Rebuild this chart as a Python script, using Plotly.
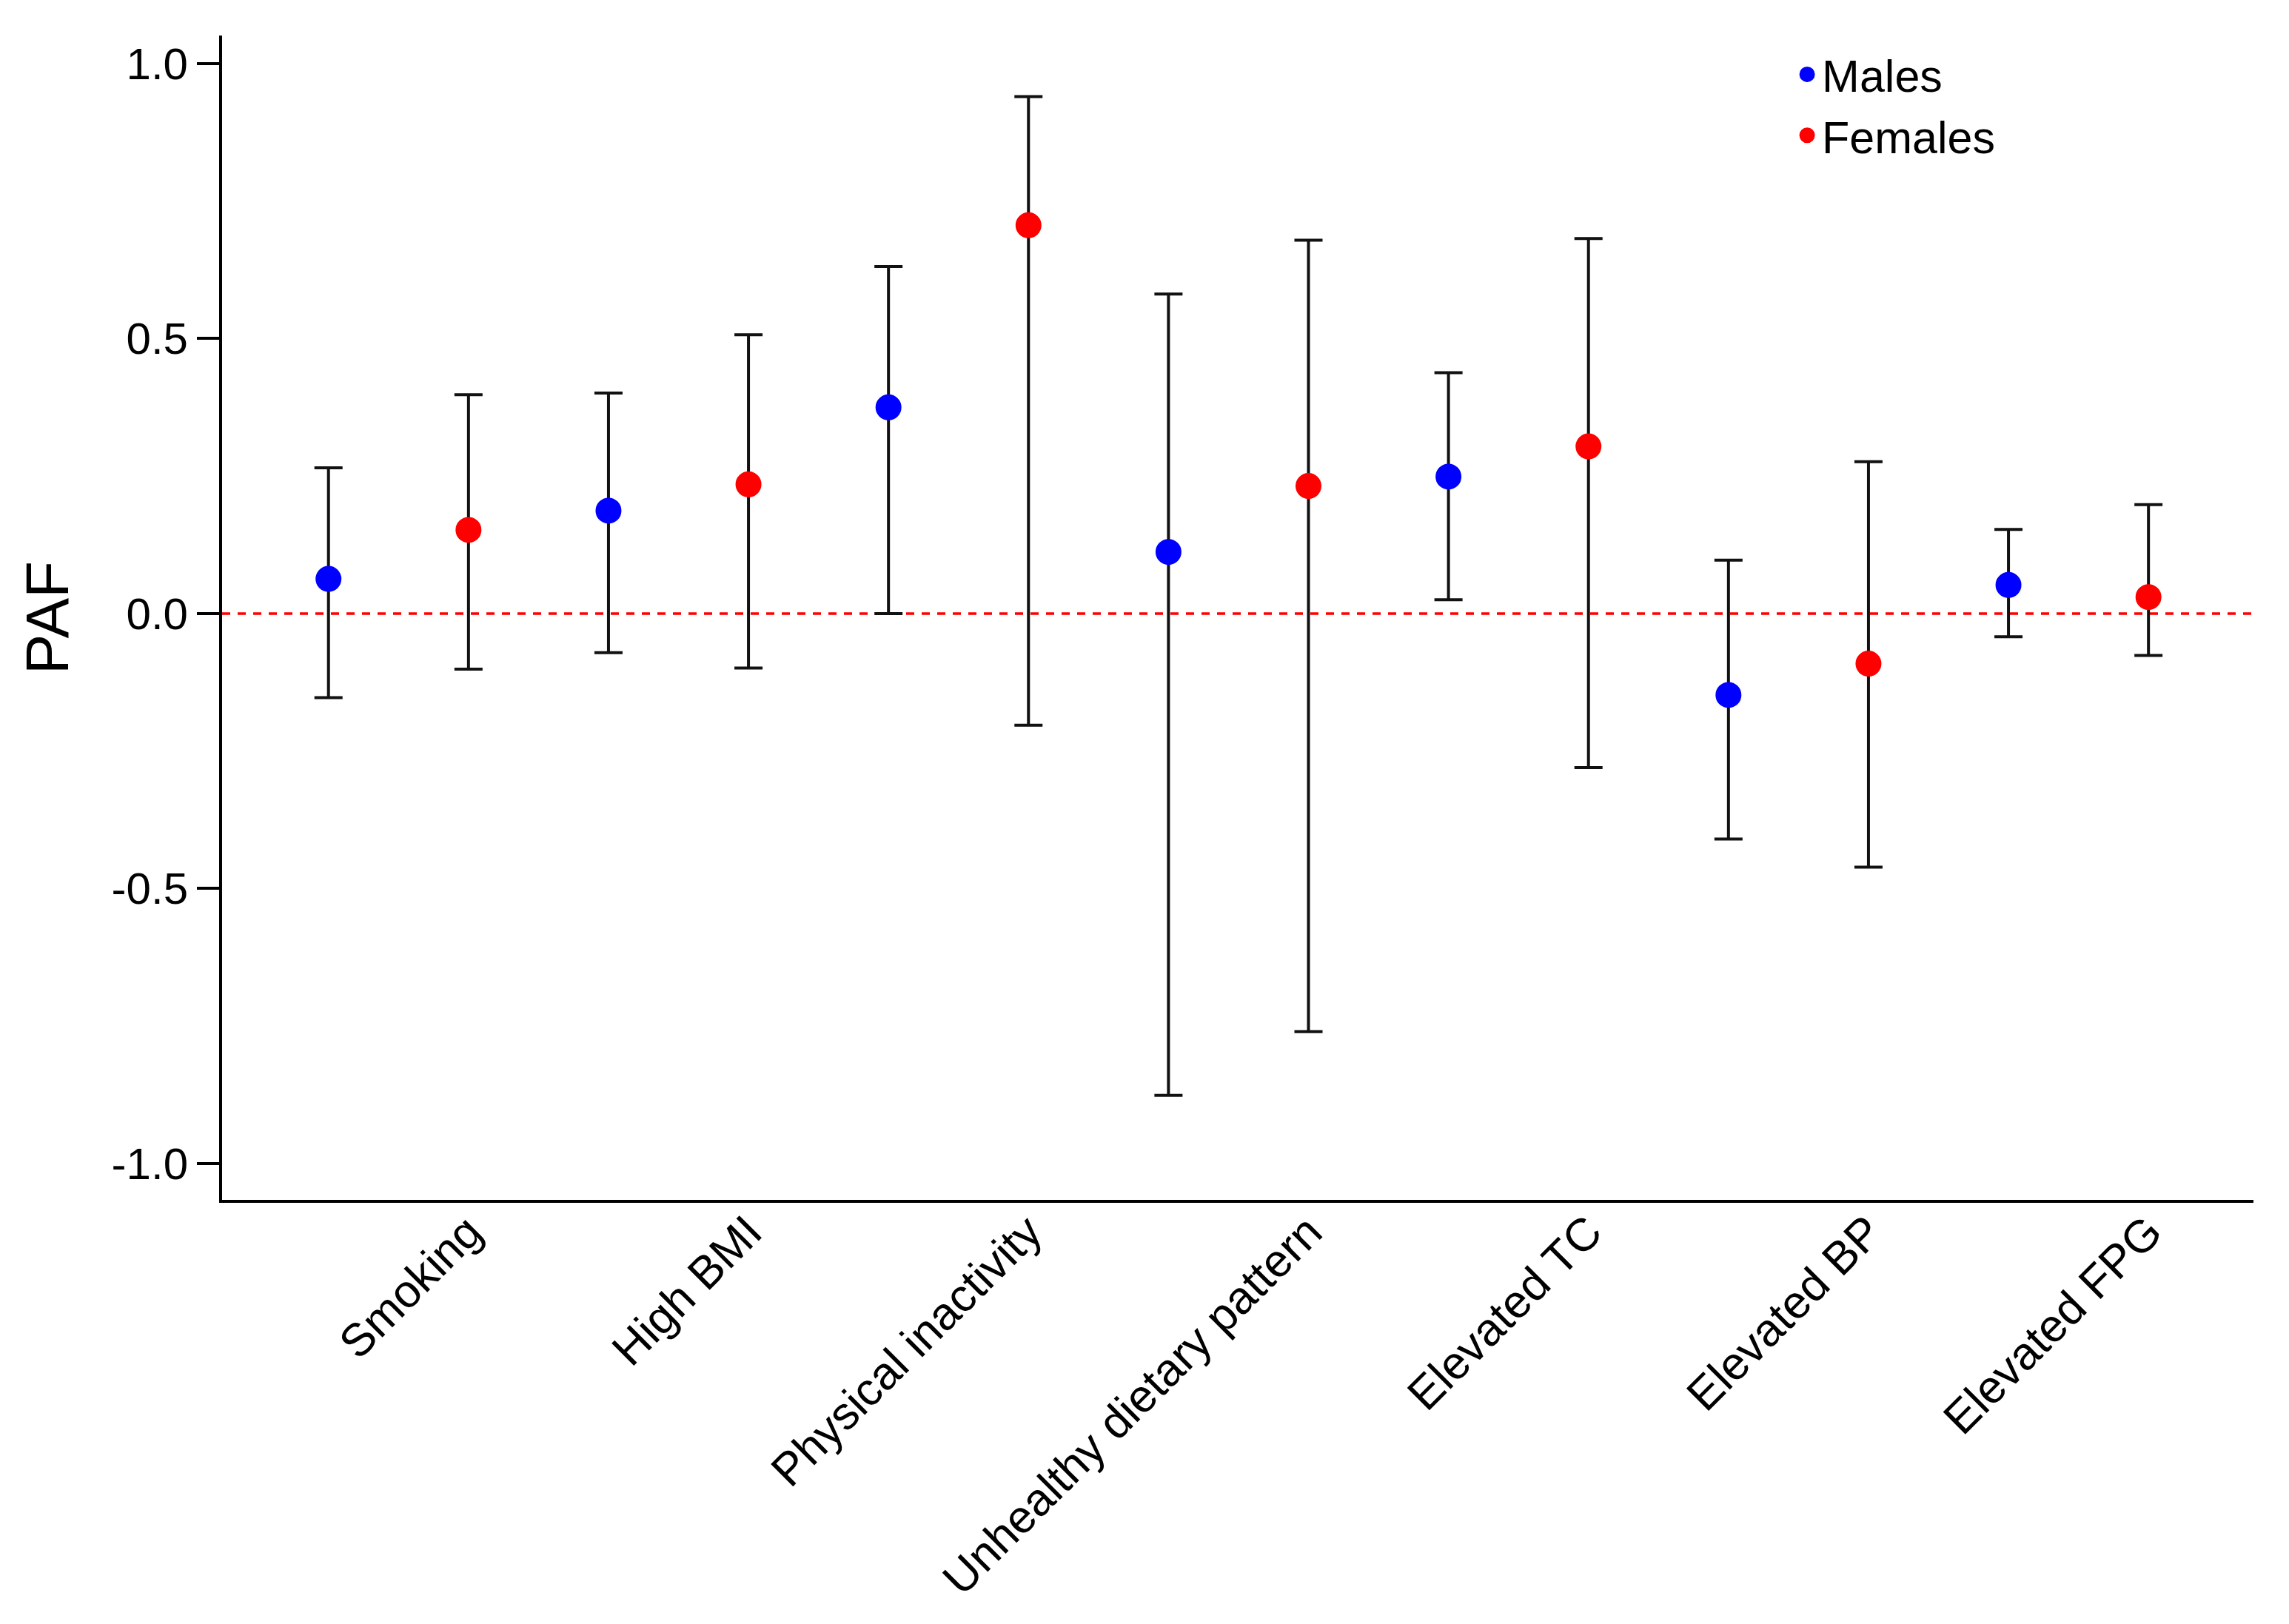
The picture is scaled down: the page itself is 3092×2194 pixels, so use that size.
import plotly.graph_objects as go

categories = ["Smoking", "High BMI", "Physical inactivity", "Unhealthy dietary pattern",
              "Elevated TC", "Elevated BP", "Elevated FPG"]

males_paf = [0.063, 0.187, 0.375, 0.112, 0.249, -0.148, 0.052]
males_lo = [-0.153, -0.071, 0.000, -0.876, 0.025, -0.410, -0.042]
males_hi = [0.265, 0.401, 0.631, 0.581, 0.438, 0.097, 0.153]

females_paf = [0.152, 0.235, 0.706, 0.232, 0.304, -0.091, 0.030]
females_lo = [-0.101, -0.099, -0.203, -0.760, -0.280, -0.461, -0.076]
females_hi = [0.398, 0.507, 0.940, 0.679, 0.682, 0.276, 0.198]

y_ticks = [-1.0, -0.5, 0.0, 0.5, 1.0]
y_ticklabels = ["-1.0", "-0.5", "0.0", "0.5", "1.0"]

n = len(categories)
x_m = [2 * i + 1 for i in range(n)]
x_f = [2 * i + 2 for i in range(n)]

FONT = "Liberation Sans, Arial, sans-serif"


def err(vals, lo, hi):
    return dict(type="data", symmetric=False,
                array=[h - v for v, h in zip(vals, hi)],
                arrayminus=[v - l for v, l in zip(vals, lo)],
                color="#111111", thickness=4, width=19)


fig = go.Figure()
fig.add_trace(go.Scatter(x=x_m, y=males_paf, mode="markers", name="Males",
                         marker=dict(color="#0000ff", size=30,
                                     line=dict(color="#0000ff", width=5)),
                         error_y=err(males_paf, males_lo, males_hi)))
fig.add_trace(go.Scatter(x=x_f, y=females_paf, mode="markers", name="Females",
                         marker=dict(color="#ff0000", size=30,
                                     line=dict(color="#ff0000", width=5)),
                         error_y=err(females_paf, females_lo, females_hi)))

fig.add_shape(type="line", xref="paper", x0=0, x1=1, yref="y", y0=0, y1=0,
              line=dict(color="#ff0000", width=3.5, dash="11px,10px"), layer="below")

fig.update_layout(
    width=3092, height=2194,
    margin=dict(l=292, r=56, t=40, b=581, autoexpand=False),
    paper_bgcolor="white", plot_bgcolor="white",
    font=dict(family=FONT, color="black"),
    showlegend=True,
    legend=dict(x=0.773, y=0.996, xanchor="left", yanchor="top",
                font=dict(size=61, family=FONT, color="black"),
                bgcolor="rgba(0,0,0,0)", itemsizing="trace",
                tracegroupgap=0),
    xaxis=dict(range=[0.24, 14.75], tickvals=x_f, ticktext=categories,
               tickangle=-45, showline=True, linecolor="black", linewidth=4,
               ticks="", showgrid=False, zeroline=False, ticklabelstandoff=-22,
               tickfont=dict(size=62, family=FONT, color="black")),
    yaxis=dict(range=[-1.066, 1.051], tickvals=y_ticks, ticktext=y_ticklabels,
               showline=True, linecolor="black", linewidth=4,
               ticks="outside", ticklen=30, tickwidth=4, tickcolor="black",
               showgrid=False, zeroline=False,
               tickfont=dict(size=60, family=FONT, color="black"),
               title=dict(text="PAF", font=dict(size=82, family=FONT, color="black"),
                          standoff=32)),
)

fig.write_html("out.html")
